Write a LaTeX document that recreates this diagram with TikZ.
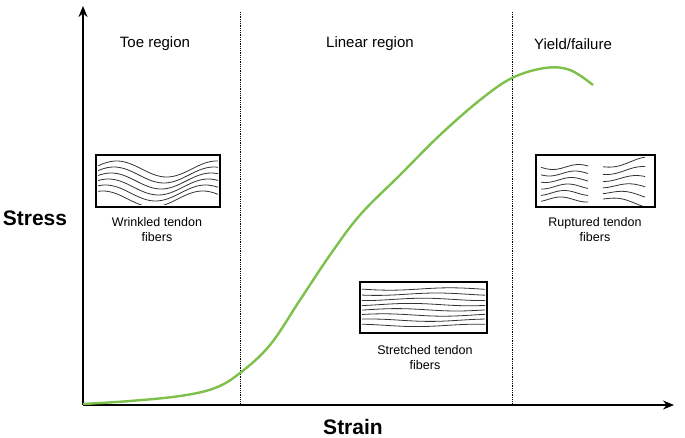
\documentclass[tikz,border=0pt]{standalone}
\usepackage{fontspec}
\setmainfont{Liberation Sans}
\usetikzlibrary{arrows.meta}
\begin{document}
\begin{tikzpicture}[x=1pt,y=-1pt,
  axis/.style={line width=1.8pt,-{Stealth[length=11pt,width=9pt]}},
  sep/.style={densely dotted,line width=0.8pt},
  lbl/.style={font=\fontsize{15}{17}\selectfont},
  captext/.style={font=\fontsize{12.5}{15}\selectfont,align=center},
  fbox/.style={draw,line width=2.4pt},
  fib/.style={line width=0.8pt,black!80}]
\useasboundingbox (0,0) rectangle (685,438);
\coordinate (o) at (83,405);
\coordinate (ytop) at (83,6);
\coordinate (xend) at (674,405);
\draw[sep] (240,12) -- (240,405);
\draw[sep] (512,12) -- (512,405);
\draw[axis] (o) -- (ytop);
\draw[axis] (o) -- (xend);
\node[lbl] (t1) at (155,44) {Toe region};
\node[lbl] (t2) at (370,44) {Linear region};
\node[lbl] (t3) at (573,44) {Yield/failure};
\node[font=\fontsize{21}{23}\selectfont\bfseries] (ys) at (35,218) {Stress};
\node[font=\fontsize{21}{23}\selectfont\bfseries] (xs) at (353,427) {Strain};
% curve
\draw[line width=2.4pt,color={rgb,255:red,125;green,192;blue,75}]
  plot[smooth,tension=0.6] coordinates {(83,404) (130,401) (180,396) (215,388) (240,373) (270,345) (300,300) (330,255) (360,215) (400,175) (440,135) (480,100) (512,78) (545,68) (570,70) (593,85)};
% left box
\begin{scope}
\clip (98,157) rectangle (218,205);
\foreach \k in {0,...,5}
  \draw[fib] plot[smooth,domain=98:218,samples=60] (\x,{169+6*\k-8*sin(\x*3.6-330+10*\k)});
\end{scope}
\node[fbox,minimum width=124pt,minimum height=52pt] (b1) at (158,181) {};
\node[captext] (c1) at (157,230) {Wrinkled tendon\\fibers};
% middle box
\begin{scope}
\clip (362,284) rectangle (485,331);
\foreach \k in {0,...,7}
  \draw[fib] plot[smooth,domain=362:485,samples=30] (\x,{289+5.2*\k+1.2*sin(\x*3+40*\k)});
\end{scope}
\node[fbox,minimum width=127pt,minimum height=51pt] (b2) at (423.5,307.5) {};
\node[captext] (c2) at (425,358) {Stretched tendon\\fibers};
% right box
\foreach \k in {0,...,5} {
  \draw[fib] plot[smooth,domain=541:588,samples=30] (\x,{167+6.5*\k-2.5*sin(\x*7+25*\k)});
  \draw[fib] plot[smooth,domain=603:645,samples=30] (\x,{166+6.5*\k+2.5*sin(\x*6+30*\k)+0.06*(\x-603)*(\k-2.5)});
}
\node[fbox,minimum width=119pt,minimum height=52pt] (b3) at (595.5,181) {};
\node[captext] (c3) at (595,230) {Ruptured tendon\\fibers};
\end{tikzpicture}
\end{document}
